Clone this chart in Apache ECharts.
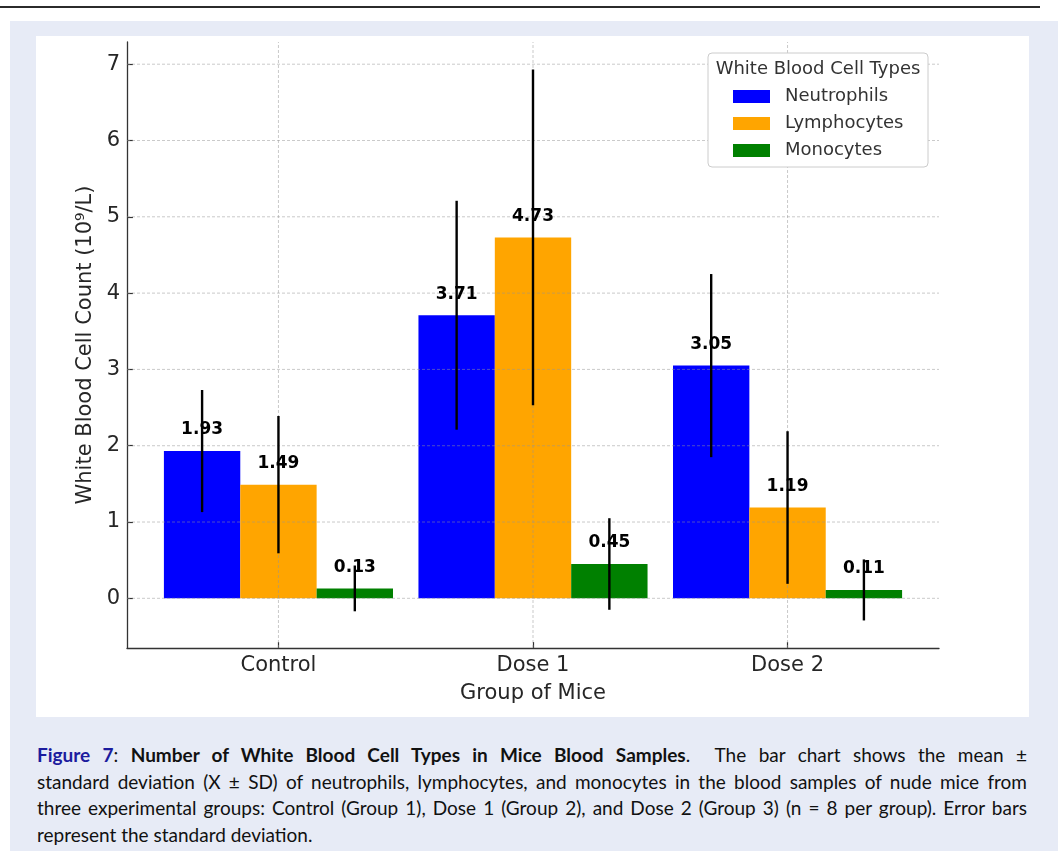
<!DOCTYPE html>
<html>
<head>
<meta charset="utf-8">
<script src="https://cdn.jsdelivr.net/npm/echarts@6/dist/echarts.min.js"></script>
<style>
  html, body { margin: 0; padding: 0; }
  body { width: 1058px; height: 859px; position: relative; background: #ffffff; overflow: hidden; }
  #rule { position: absolute; left: 0; top: 6px; width: 1040px; height: 2px; background: #2b2b2b; }
  #panel { position: absolute; left: 10px; top: 21px; width: 1048px; height: 830px; background: #e7ebf6; }
  #chart { position: absolute; left: 36px; top: 36px; width: 993px; height: 681px; background: #ffffff; }
  #caption { position: absolute; left: 37px; top: 742px; transform-origin: 0 0;
             font-family: Lato, "Noto Sans", sans-serif; font-size: 19px; line-height: 26.7px; color: #111; }
  #caption .ln { white-space: nowrap; text-align: justify; text-align-last: justify; }
  #caption .ln.last { text-align: left; text-align-last: left; }
  #caption .fig { color: #1c1c9e; font-weight: bold; }
  #caption b { font-weight: bold; }
</style>
</head>
<body>
<div id="rule"></div>
<div id="panel"></div>
<div id="chart"></div>
<div id="caption">
  <div class="ln"><span><span class="fig">Figure 7</span>: <b>Number of White Blood Cell Types in Mice Blood Samples</b>.&nbsp; The bar chart shows the mean ±</span></div>
  <div class="ln"><span>standard deviation (X ± SD) of neutrophils, lymphocytes, and monocytes in the blood samples of nude mice from</span></div>
  <div class="ln"><span>three experimental groups: Control (Group 1), Dose 1 (Group 2), and Dose 2 (Group 3) (n = 8 per group). Error bars</span></div>
  <div class="ln last"><span>represent the standard deviation.</span></div>
</div>
<script>
// ---- data ----
const groups = ['Control', 'Dose 1', 'Dose 2'];
const seriesNames = ['Neutrophils', 'Lymphocytes', 'Monocytes'];
const neutrophils = [1.93, 3.71, 3.05];
const neutrophilsSD = [0.80, 1.50, 1.20];
const lymphocytes = [1.49, 4.73, 1.19];
const lymphocytesSD = [0.90, 2.20, 1.00];
const monocytes = [0.13, 0.45, 0.11];
const monocytesSD = [0.30, 0.60, 0.40];
const yTicks = [0, 1, 2, 3, 4, 5, 6, 7];
const xTicks = [0, 1, 2];

// ---- layout / style constants ----
const colors = ['#0000ff', '#ffa500', '#008000'];
const barW = 0.3;
const offsets = [-barW, 0, barW];
const FONT = '"DejaVu Sans", sans-serif';
const values = [neutrophils, lymphocytes, monocytes];
const sds = [neutrophilsSD, lymphocytesSD, monocytesSD];

// autoscale like matplotlib (5% margins)
let lo = Infinity, hi = -Infinity;
values.forEach((arr, s) => arr.forEach((v, i) => { lo = Math.min(lo, v - sds[s][i], 0); hi = Math.max(hi, v + sds[s][i]); }));
const yR = hi - lo;
const yMin = lo - 0.05 * yR, yMax = hi + 0.05 * yR;
const xLo = -1.5 * barW, xHi = (groups.length - 1) + 1.5 * barW;
const xR = xHi - xLo;
const xMin = xLo - 0.05 * xR, xMax = xHi + 0.05 * xR;

const chart = echarts.init(document.getElementById('chart'), null, { renderer: 'canvas' });

const gridStyle = { stroke: 'rgba(150,150,150,0.5)', lineWidth: 1, lineDash: [3, 2] };

const series = [];
// bars
seriesNames.forEach((name, s) => {
  series.push({
    name: name,
    type: 'custom',
    coordinateSystem: 'cartesian2d',
    itemStyle: { color: colors[s] },
    z: 2,
    data: groups.map((g, i) => [i + offsets[s], values[s][i]]),
    renderItem: function (params, api) {
      const x = api.value(0), v = api.value(1);
      const p0 = api.coord([x - barW / 2, v]);
      const p1 = api.coord([x + barW / 2, 0]);
      return {
        type: 'rect',
        shape: { x: p0[0], y: p0[1], width: p1[0] - p0[0], height: p1[1] - p0[1] },
        style: { fill: colors[s] }
      };
    }
  });
});
// grid lines (drawn above bars, like matplotlib default)
series.push({
  name: 'hgrid', type: 'custom', coordinateSystem: 'cartesian2d', z: 3, silent: true,
  data: yTicks.map(t => [0, t]),
  renderItem: function (params, api) {
    const t = api.value(1);
    const a = api.coord([xMin, t]), b = api.coord([xMax, t]);
    return { type: 'line', shape: { x1: a[0], y1: a[1], x2: b[0], y2: b[1] }, style: gridStyle };
  }
});
series.push({
  name: 'vgrid', type: 'custom', coordinateSystem: 'cartesian2d', z: 3, silent: true,
  data: xTicks.map(t => [t, 0]),
  renderItem: function (params, api) {
    const t = api.value(0);
    const a = api.coord([t, yMin]), b = api.coord([t, yMax]);
    return { type: 'line', shape: { x1: a[0], y1: a[1], x2: b[0], y2: b[1] }, style: gridStyle };
  }
});
// error bars + value labels
seriesNames.forEach((name, s) => {
  series.push({
    name: name + ' SD',
    type: 'custom',
    coordinateSystem: 'cartesian2d',
    z: 4, silent: true,
    data: groups.map((g, i) => [i + offsets[s], values[s][i], sds[s][i]]),
    renderItem: function (params, api) {
      const x = api.value(0), v = api.value(1), sd = api.value(2);
      const top = api.coord([x, v + sd]);
      const bot = api.coord([x, v - sd]);
      const mid = api.coord([x, v]);
      return {
        type: 'group',
        children: [
          { type: 'line', shape: { x1: top[0], y1: top[1], x2: bot[0], y2: bot[1] },
            style: { stroke: '#000', lineWidth: 2.4 } },
          { type: 'text', z2: 10,
            style: { text: v.toFixed(2), x: mid[0], y: mid[1] - 21, align: 'center', verticalAlign: 'middle',
                     font: 'bold 17px ' + FONT, fill: '#000' } }
        ]
      };
    }
  });
});

const option = {
  animation: false,
  backgroundColor: '#ffffff',
  textStyle: { fontFamily: FONT },
  grid: { left: 91, top: 6, width: 812, height: 606, containLabel: false },
  xAxis: {
    type: 'value', min: xMin, max: xMax,
    name: 'Group of Mice', nameLocation: 'middle', nameGap: 35,
    nameTextStyle: { fontSize: 21, color: '#262626', fontFamily: FONT },
    axisLine: { show: true, onZero: false, lineStyle: { color: '#333', width: 1.3 } },
    axisTick: { show: true, inside: true, length: 6, customValues: xTicks, lineStyle: { color: '#333', width: 1.2 } },
    axisLabel: { customValues: xTicks, margin: 7, fontSize: 21, color: '#262626', fontFamily: FONT,
                 formatter: v => groups[Math.round(v)] },
    splitLine: { show: false }
  },
  yAxis: {
    type: 'value', min: yMin, max: yMax,
    name: 'White Blood Cell Count (10⁹/L)', nameLocation: 'middle', nameGap: 27, nameRotate: 90,
    nameTextStyle: { fontSize: 21, color: '#262626', fontFamily: FONT },
    axisLine: { show: true, onZero: false, lineStyle: { color: '#333', width: 1.3 } },
    axisTick: { show: true, inside: true, length: 6, customValues: yTicks, lineStyle: { color: '#333', width: 1.2 } },
    axisLabel: { customValues: yTicks, margin: 7, fontSize: 21, color: '#262626', fontFamily: FONT,
                 formatter: v => String(Math.round(v)) },
    splitLine: { show: false }
  },
  legend: {
    data: seriesNames,
    orient: 'vertical',
    left: 697, top: 50.5,
    padding: 0,
    itemWidth: 37, itemHeight: 13, itemGap: 7,
    icon: 'rect',
    selectedMode: false,
    z: 20,
    textStyle: { fontSize: 18, color: '#333', fontFamily: FONT, lineHeight: 20, padding: [0, 0, 0, 10] }
  },
  graphic: [
    { type: 'rect', z: 15, x: 672, y: 17,
      shape: { width: 220, height: 114, r: 4 },
      style: { fill: '#ffffff', stroke: '#cccccc', lineWidth: 1 } },
    { type: 'text', z: 16, x: 0, y: 0,
      style: { text: 'White Blood Cell Types', x: 782, y: 33.5, align: 'center', verticalAlign: 'middle',
               font: '18px ' + FONT, fill: '#333' } }
  ],
  series: series
};
chart.setOption(option);

// ---- caption fitting: same horizontal compression for all lines ----
(function fitCaption() {
  const cap = document.getElementById('caption');
  const target = 990;
  let maxW = 0;
  cap.querySelectorAll('.ln > span').forEach(sp => { maxW = Math.max(maxW, sp.getBoundingClientRect().width); });
  const scale = Math.min(1, target / maxW);
  cap.style.width = (target / scale) + 'px';
  cap.style.transform = 'scaleX(' + scale + ')';
})();
</script>
</body>
</html>
